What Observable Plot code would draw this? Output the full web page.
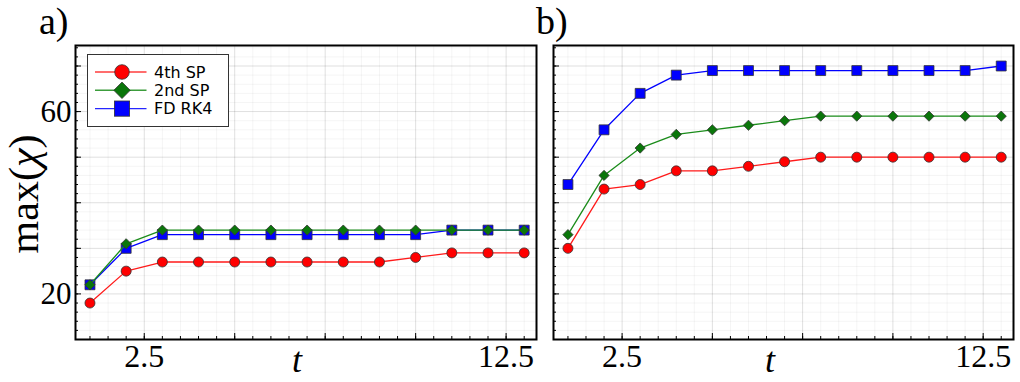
<!DOCTYPE html>
<html><head><meta charset="utf-8">
<script src="https://cdn.jsdelivr.net/npm/d3@7"></script>
<script src="https://cdn.jsdelivr.net/npm/@observablehq/plot@0.6"></script>
<style>
html,body{margin:0;padding:0;background:#fff;}
#root{position:relative;width:1020px;height:382px;overflow:hidden;}
.panel{position:absolute;top:0;}
#overlay{position:absolute;left:0;top:0;pointer-events:none;}
</style></head><body>
<div id="root">
  <div id="pa" class="panel" style="left:0px"></div>
  <div id="pb" class="panel" style="left:540px"></div>
</div>
<script>
// ---- data ----
const tValues = [1,2,3,4,5,6,7,8,9,10,11,12,13];
const seriesNames = ["4th SP", "2nd SP", "FD RK4"];
// panel a)
const a4thSP = [18,25,27,27,27,27,27,27,27,28,29,29,29];
const a2ndSP = [22,31,34,34,34,34,34,34,34,34,34,34,34];
const aFDRK4 = [22,30,33,33,33,33,33,33,33,33,34,34,34];
// panel b)
const b4thSP = [30,43,44,47,47,48,49,50,50,50,50,50,50];
const b2ndSP = [33,46,52,55,56,57,58,59,59,59,59,59,59];
const bFDRK4 = [44,56,64,68,69,69,69,69,69,69,69,69,70];
// axis tick labels
const xTickLabels = [2.5, 12.5];
const yTickLabels = [20, 60];
const xMajorTicks = [2.5, 5, 7.5, 10, 12.5];
const yMajorTicks = [20, 30, 40, 50, 60, 70];
const xMinorTicks = d3.range(1, 13.01, 0.5);
const yMinorTicks = d3.range(12, 74.01, 2);

// ---- styles ----
const styles = {
  "4th SP": {symbol: "circle",   r: 5,   fill: "#ff0000", line: "#ff1a1a"},
  "2nd SP": {symbol: "diamond2", r: 4.6, fill: "#0a760a", line: "#1a8c1a"},
  "FD RK4": {symbol: "square",   r: 5.6, fill: "#0000ff", line: "#0000ff"}
};
const drawOrder = ["4th SP", "FD RK4", "2nd SP"];
const serif = "'Liberation Serif', 'Times New Roman', serif";

function rowsOf(values) { return tValues.map((t, i) => ({t, v: values[i]})); }

function panel(seriesMap, {width, marginLeft, marginRight, yLabels}) {
  const marks = [
    Plot.gridX(xMinorTicks, {stroke: "#000", strokeOpacity: 0.045}),
    Plot.gridX(xMajorTicks, {stroke: "#000", strokeOpacity: 0.085}),
    Plot.gridY(yMinorTicks, {stroke: "#000", strokeOpacity: 0.045}),
    Plot.gridY(yMajorTicks, {stroke: "#000", strokeOpacity: 0.085}),
    Plot.axisX(xMinorTicks, {tickSize: -3, fill: "none", label: null, stroke: "#000"}),
    Plot.axisX(xMajorTicks, {tickSize: -6, fill: "none", label: null, stroke: "#000"}),
    Plot.axisY(yMinorTicks, {tickSize: -3, fill: "none", label: null, stroke: "#000"}),
    Plot.axisY(yMajorTicks, {tickSize: -6, fill: "none", label: null, stroke: "#000"}),
    Plot.axisX(xTickLabels, {tickSize: 0, tickPadding: 5, fontSize: 32, label: null, fill: "#000", tickFormat: d => String(d)})
  ];
  if (yLabels) marks.push(Plot.axisY(yTickLabels, {tickSize: 0, tickPadding: 4, fontSize: 31, label: null, fill: "#000"}));
  for (const name of drawOrder) {
    const s = styles[name];
    const rows = rowsOf(seriesMap[name]);
    marks.push(Plot.line(rows, {x: "t", y: "v", stroke: s.line, strokeWidth: 1.3}));
    marks.push(Plot.dot(rows, {x: "t", y: "v", symbol: s.symbol, r: s.r, fill: s.fill, stroke: "#333", strokeWidth: 0.8}));
  }
  marks.push(Plot.frame({stroke: "#000", strokeWidth: 2}));
  return Plot.plot({
    width, height: 382,
    marginLeft, marginRight, marginTop: 45, marginBottom: 43,
    x: {domain: [0.6, 13.34]},
    y: {domain: [10, 74.5]},
    style: {background: "transparent", fontFamily: serif, color: "#000"},
    marks
  });
}

document.getElementById("pa").appendChild(panel(
  {"4th SP": a4thSP, "2nd SP": a2ndSP, "FD RK4": aFDRK4},
  {width: 540, marginLeft: 75, marginRight: 4, yLabels: true}));
document.getElementById("pb").appendChild(panel(
  {"4th SP": b4thSP, "2nd SP": b2ndSP, "FD RK4": bFDRK4},
  {width: 480, marginLeft: 13, marginRight: 7, yLabels: false}));

// ---- overlay: panel tags, axis titles, legend ----
const ov = d3.select("#root").append("svg").attr("id", "overlay").attr("width", 1020).attr("height", 382);
ov.append("text").attr("x", 39).attr("y", 34).attr("font-family", serif).attr("font-size", 38).text("a)");
ov.append("text").attr("x", 536).attr("y", 34).attr("font-family", serif).attr("font-size", 38).text("b)");
const yl = ov.append("text").attr("transform", "translate(38,194) rotate(-90)").attr("text-anchor", "middle")
  .attr("font-family", serif).attr("font-size", 42);
yl.append("tspan").text("max(");
yl.append("tspan").attr("font-style", "italic").text("χ");
yl.append("tspan").text(")");
ov.append("text").attr("x", 297).attr("y", 372).attr("text-anchor", "middle").attr("font-family", serif)
  .attr("font-style", "italic").attr("font-size", 36).text("t");
ov.append("text").attr("x", 770).attr("y", 372).attr("text-anchor", "middle").attr("font-family", serif)
  .attr("font-style", "italic").attr("font-size", 36).text("t");

// legend
const lg = ov.append("g").attr("transform", "translate(87.5,54.5)");
lg.append("rect").attr("width", 141).attr("height", 72).attr("fill", "#fff").attr("stroke", "#333").attr("stroke-width", 1);
const legendSizes = {"4th SP": 7.3, "2nd SP": 8.2, "FD RK4": 7.6};
seriesNames.forEach((name, i) => {
  const s = styles[name];
  const y = 17.5 + i * 18.3;
  lg.append("line").attr("x1", 7.5).attr("x2", 59).attr("y1", y).attr("y2", y).attr("stroke", s.line).attr("stroke-width", 1.4).attr("stroke-opacity", 0.85);
  const k = legendSizes[name];
  if (s.symbol === "circle") {
    lg.append("circle").attr("cx", 34.5).attr("cy", y).attr("r", k).attr("fill", s.fill).attr("stroke", "#333").attr("stroke-width", 0.8);
  } else if (s.symbol === "diamond2") {
    lg.append("path").attr("d", `M34.5,${y - k}L${34.5 + k},${y}L34.5,${y + k}L${34.5 - k},${y}Z`).attr("fill", s.fill).attr("stroke", "#333").attr("stroke-width", 0.8);
  } else {
    lg.append("rect").attr("x", 34.5 - k).attr("y", y - k).attr("width", 2 * k).attr("height", 2 * k).attr("fill", s.fill).attr("stroke", "#333").attr("stroke-width", 0.8);
  }
  lg.append("text").attr("x", 66.5).attr("y", y).attr("dy", "0.36em").attr("font-family", "'DejaVu Sans', sans-serif")
    .attr("font-size", 16).attr("fill", "#000").text(name);
});
</script>
</body></html>
